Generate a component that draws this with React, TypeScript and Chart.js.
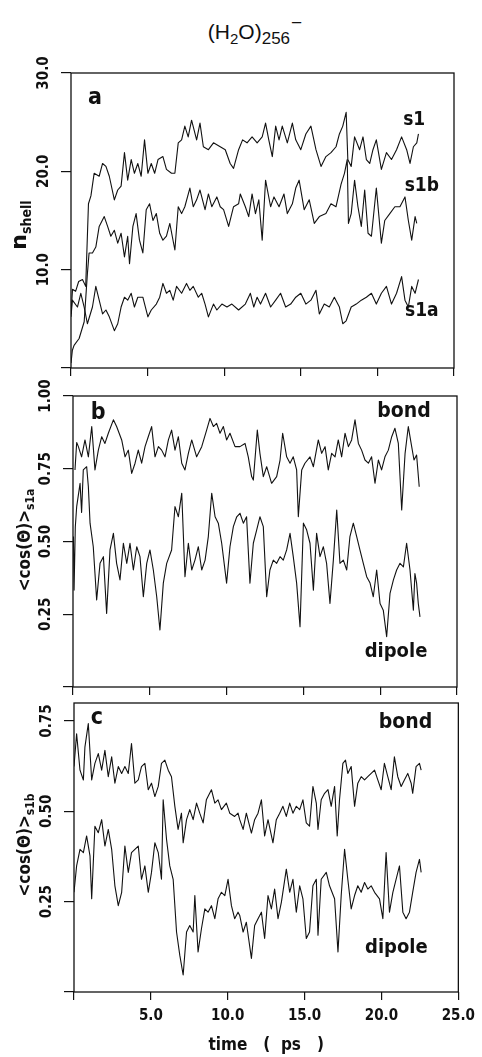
import React, { useEffect, useRef } from "react";
import { Chart, registerables } from "chart.js";

Chart.register(...registerables);

const FONT = "'DejaVu Sans Condensed', 'DejaVu Sans', sans-serif";
const INK = "#111";

// ---- (a) shell populations n_shell vs time (ps) ----
const s1Time = [0, 0.1, 0.3, 0.5, 0.75, 0.96, 1.14, 1.3, 1.51, 1.84, 2.06, 2.28, 2.5, 2.83, 3.05, 3.27, 3.49, 3.7, 3.93, 4.14, 4.36, 4.58, 4.8, 5.02, 5.24, 5.46, 5.68, 6.0, 6.23, 6.56, 6.78, 7.0, 7.22, 7.43, 7.65, 7.87, 8.2, 8.42, 8.64, 8.97, 9.3, 9.74, 10.07, 10.39, 10.61, 10.94, 11.2, 11.49, 11.82, 12.15, 12.48, 12.7, 12.91, 13.14, 13.36, 13.58, 13.79, 14.12, 14.45, 14.67, 15.0, 15.33, 15.66, 15.99, 16.32, 16.64, 16.97, 17.3, 17.52, 17.74, 17.96, 18.07, 18.29, 18.51, 18.84, 19.06, 19.28, 19.5, 19.71, 19.93, 20.26, 20.59, 20.92, 21.25, 21.58, 21.91, 22.13, 22.35, 22.57, 22.68];
const s1Shell = [5.5, 8.0, 7.8, 8.8, 9.0, 8.3, 16.7, 17.5, 19.8, 19.5, 20.8, 20.5, 19.5, 17.1, 18.1, 18.5, 21.9, 19.1, 21.2, 19.8, 20.8, 19.5, 23.2, 19.8, 20.8, 19.8, 21.2, 21.5, 20.2, 19.8, 19.8, 22.9, 23.2, 24.6, 23.5, 25.2, 23.2, 24.9, 22.5, 22.2, 22.9, 22.5, 22.2, 20.8, 20.3, 22.2, 23.2, 22.9, 23.5, 22.9, 23.5, 24.9, 23.2, 21.5, 24.6, 23.2, 24.6, 22.9, 24.9, 23.2, 22.2, 23.8, 24.6, 22.2, 20.5, 21.5, 21.9, 22.5, 23.8, 24.6, 26.0, 21.2, 20.5, 23.5, 22.2, 23.5, 21.2, 20.8, 22.2, 23.2, 20.2, 21.9, 21.2, 22.2, 23.5, 22.2, 20.8, 22.5, 22.9, 23.8];

const s1bTime = [0, 0.09, 0.2, 0.53, 0.86, 1.07, 1.18, 1.4, 1.62, 1.84, 2.17, 2.39, 2.6, 2.83, 3.05, 3.27, 3.49, 3.7, 3.82, 4.04, 4.25, 4.47, 4.69, 4.91, 5.13, 5.35, 5.57, 5.79, 6.0, 6.23, 6.45, 6.78, 7.0, 7.22, 7.43, 7.76, 7.98, 8.2, 8.42, 8.75, 8.97, 9.19, 9.52, 9.74, 9.96, 10.29, 10.61, 10.94, 11.05, 11.38, 11.6, 11.82, 12.04, 12.26, 12.48, 12.7, 13.03, 13.25, 13.58, 13.9, 14.12, 14.45, 14.67, 14.89, 15.22, 15.55, 15.88, 16.21, 16.64, 16.97, 17.3, 17.63, 17.85, 18.03, 18.11, 18.29, 18.51, 18.73, 18.95, 19.17, 19.39, 19.61, 19.93, 20.26, 20.48, 20.81, 21.14, 21.47, 21.8, 22.02, 22.24, 22.46, 22.57];
const s1bShell = [0.5, 1.8, 2.3, 3.0, 4.7, 9.6, 11.7, 11.7, 12.3, 14.4, 15.4, 14.4, 13.4, 14.0, 12.7, 13.7, 11.3, 13.4, 10.6, 14.4, 15.7, 13.0, 11.7, 16.1, 16.7, 15.0, 15.7, 13.7, 13.0, 13.4, 14.7, 12.0, 16.4, 15.7, 16.4, 18.3, 16.4, 17.1, 18.1, 16.1, 17.7, 16.4, 17.4, 16.4, 16.1, 14.4, 16.4, 16.7, 17.7, 16.4, 15.4, 17.7, 15.7, 17.1, 13.0, 19.1, 16.4, 17.4, 16.4, 17.7, 15.7, 16.7, 18.3, 19.1, 16.1, 17.1, 14.7, 15.4, 15.7, 16.7, 16.4, 18.7, 19.8, 21.2, 14.7, 15.7, 19.1, 16.4, 14.4, 18.1, 13.7, 13.4, 18.3, 12.7, 15.0, 15.7, 16.4, 16.4, 17.4, 15.0, 13.0, 15.4, 14.7];

const s1aTime = [0, 0.09, 0.42, 0.64, 0.86, 1.07, 1.4, 1.62, 1.84, 2.06, 2.28, 2.5, 2.83, 3.05, 3.27, 3.49, 3.7, 3.93, 4.14, 4.36, 4.69, 5.02, 5.24, 5.57, 5.79, 6.0, 6.23, 6.45, 6.67, 6.89, 7.22, 7.54, 7.76, 7.98, 8.31, 8.53, 8.75, 8.97, 9.3, 9.52, 9.85, 10.18, 10.5, 10.94, 11.38, 11.71, 11.93, 12.15, 12.37, 12.7, 13.03, 13.36, 13.68, 14.01, 14.34, 14.67, 15.0, 15.33, 15.66, 15.99, 16.21, 16.53, 16.86, 17.19, 17.52, 17.74, 17.96, 18.29, 18.62, 18.95, 19.28, 19.61, 19.93, 20.26, 20.59, 20.92, 21.25, 21.58, 21.8, 22.02, 22.24, 22.46, 22.68];
const s1aShell = [5.2, 6.9, 6.2, 7.6, 6.2, 4.5, 6.2, 8.3, 6.9, 5.5, 5.9, 5.2, 3.8, 4.5, 6.2, 7.2, 6.9, 7.6, 6.2, 7.2, 7.2, 5.2, 5.9, 6.5, 7.2, 8.6, 7.6, 7.9, 6.9, 8.3, 7.6, 8.6, 7.9, 8.3, 7.2, 7.6, 6.5, 5.2, 6.5, 5.9, 6.5, 6.2, 6.5, 5.9, 6.5, 7.6, 6.2, 7.2, 6.5, 7.6, 6.2, 6.9, 7.6, 6.2, 6.5, 7.2, 7.6, 6.5, 6.9, 7.9, 5.5, 6.5, 6.2, 7.2, 6.2, 4.5, 4.8, 6.2, 6.5, 6.9, 7.2, 7.6, 6.5, 7.6, 8.3, 6.5, 7.6, 9.3, 6.9, 6.2, 8.3, 7.6, 9.0];

// ---- (b) <cos(Θ)> for shell s1a ----
const bondATime = [0.13, 0.24, 0.35, 0.56, 0.78, 1.0, 1.22, 1.43, 1.65, 1.87, 2.08, 2.3, 2.63, 2.84, 3.17, 3.39, 3.6, 3.82, 4.04, 4.25, 4.47, 4.69, 4.9, 5.12, 5.34, 5.56, 5.77, 5.99, 6.21, 6.42, 6.64, 6.86, 7.08, 7.29, 7.51, 7.73, 8.05, 8.38, 8.7, 8.92, 9.14, 9.35, 9.57, 9.79, 10.0, 10.22, 10.55, 10.87, 11.2, 11.41, 11.63, 11.74, 12.0, 12.17, 12.39, 12.61, 12.93, 13.26, 13.48, 13.65, 13.91, 14.13, 14.34, 14.56, 14.67, 14.89, 15.1, 15.43, 15.65, 15.97, 16.19, 16.41, 16.62, 16.84, 17.06, 17.27, 17.49, 17.71, 17.93, 18.14, 18.36, 18.58, 18.79, 19.01, 19.23, 19.44, 19.66, 19.88, 20.09, 20.31, 20.53, 20.75, 20.96, 21.18, 21.4, 21.62, 21.83, 22.05, 22.2, 22.37, 22.54];
const bondA = [0.746, 0.84, 0.826, 0.791, 0.849, 0.791, 0.895, 0.746, 0.814, 0.86, 0.837, 0.872, 0.918, 0.895, 0.849, 0.791, 0.814, 0.734, 0.769, 0.814, 0.769, 0.826, 0.86, 0.895, 0.791, 0.826, 0.814, 0.791, 0.849, 0.883, 0.814, 0.86, 0.769, 0.746, 0.803, 0.849, 0.791, 0.826, 0.883, 0.923, 0.895, 0.906, 0.872, 0.895, 0.849, 0.872, 0.826, 0.826, 0.837, 0.791, 0.723, 0.711, 0.883, 0.803, 0.723, 0.757, 0.7, 0.723, 0.78, 0.872, 0.791, 0.769, 0.791, 0.746, 0.585, 0.746, 0.769, 0.791, 0.757, 0.849, 0.803, 0.826, 0.746, 0.803, 0.791, 0.849, 0.791, 0.872, 0.826, 0.849, 0.918, 0.837, 0.814, 0.78, 0.769, 0.791, 0.7, 0.78, 0.746, 0.791, 0.814, 0.86, 0.889, 0.837, 0.608, 0.803, 0.895, 0.826, 0.78, 0.797, 0.688];

const dipoleATime = [0.03, 0.07, 0.15, 0.24, 0.46, 0.56, 0.67, 0.89, 1.0, 1.11, 1.32, 1.54, 1.76, 1.98, 2.19, 2.41, 2.63, 2.84, 3.06, 3.28, 3.5, 3.71, 3.93, 4.15, 4.36, 4.58, 4.8, 5.01, 5.23, 5.45, 5.66, 5.88, 6.1, 6.42, 6.64, 6.86, 7.08, 7.29, 7.51, 7.73, 7.94, 8.16, 8.38, 8.6, 8.81, 9.03, 9.25, 9.46, 9.68, 10.0, 10.22, 10.44, 10.66, 10.87, 11.09, 11.3, 11.52, 11.74, 11.96, 12.17, 12.39, 12.61, 12.82, 13.04, 13.26, 13.48, 13.69, 13.91, 14.13, 14.34, 14.56, 14.78, 15.0, 15.21, 15.43, 15.65, 15.86, 16.08, 16.3, 16.51, 16.73, 16.95, 17.17, 17.38, 17.6, 17.82, 18.03, 18.25, 18.47, 18.68, 18.9, 19.12, 19.34, 19.55, 19.77, 19.99, 20.2, 20.42, 20.64, 20.86, 21.07, 21.29, 21.51, 21.72, 21.94, 22.16, 22.26, 22.37, 22.48, 22.59];
const dipoleA = [0.517, 0.333, 0.55, 0.62, 0.7, 0.6, 0.746, 0.757, 0.688, 0.563, 0.482, 0.299, 0.425, 0.448, 0.253, 0.471, 0.528, 0.425, 0.368, 0.494, 0.425, 0.494, 0.402, 0.482, 0.448, 0.31, 0.425, 0.471, 0.402, 0.31, 0.196, 0.357, 0.425, 0.471, 0.62, 0.585, 0.666, 0.379, 0.494, 0.402, 0.436, 0.482, 0.402, 0.436, 0.517, 0.666, 0.585, 0.563, 0.494, 0.357, 0.482, 0.551, 0.585, 0.597, 0.563, 0.585, 0.357, 0.494, 0.54, 0.585, 0.551, 0.31, 0.402, 0.436, 0.425, 0.448, 0.436, 0.471, 0.528, 0.448, 0.357, 0.207, 0.563, 0.54, 0.494, 0.333, 0.528, 0.448, 0.482, 0.425, 0.287, 0.436, 0.608, 0.425, 0.436, 0.402, 0.517, 0.563, 0.517, 0.471, 0.425, 0.379, 0.357, 0.31, 0.402, 0.287, 0.264, 0.173, 0.322, 0.368, 0.402, 0.425, 0.413, 0.494, 0.402, 0.264, 0.39, 0.357, 0.287, 0.241];

// ---- (c) <cos(Θ)> for shell s1b ----
const bondBTime = [0, 0.17, 0.39, 0.61, 0.71, 0.93, 1.15, 1.36, 1.58, 1.8, 2.01, 2.23, 2.45, 2.66, 2.88, 3.1, 3.31, 3.53, 3.74, 3.96, 4.18, 4.39, 4.61, 4.83, 5.04, 5.26, 5.48, 5.69, 5.91, 6.13, 6.34, 6.56, 6.77, 6.99, 7.1, 7.32, 7.53, 7.75, 7.97, 8.18, 8.4, 8.61, 8.94, 9.16, 9.37, 9.59, 9.91, 10.13, 10.45, 10.67, 10.78, 11.0, 11.21, 11.54, 11.75, 11.97, 12.19, 12.4, 12.62, 12.94, 13.16, 13.38, 13.59, 13.81, 14.03, 14.24, 14.46, 14.68, 14.89, 15.11, 15.32, 15.54, 15.76, 15.87, 16.08, 16.3, 16.52, 16.73, 16.95, 17.12, 17.27, 17.49, 17.66, 17.81, 18.03, 18.25, 18.46, 18.68, 18.9, 19.11, 19.33, 19.55, 19.76, 19.98, 20.19, 20.41, 20.63, 20.84, 21.06, 21.28, 21.49, 21.71, 21.93, 22.03, 22.25, 22.47, 22.58];
const bondB = [0.624, 0.715, 0.614, 0.587, 0.678, 0.743, 0.587, 0.633, 0.66, 0.614, 0.669, 0.596, 0.651, 0.578, 0.624, 0.605, 0.624, 0.605, 0.688, 0.578, 0.587, 0.624, 0.633, 0.56, 0.578, 0.541, 0.569, 0.633, 0.642, 0.614, 0.596, 0.514, 0.45, 0.495, 0.413, 0.477, 0.505, 0.477, 0.523, 0.495, 0.468, 0.532, 0.56, 0.523, 0.532, 0.505, 0.523, 0.495, 0.486, 0.495, 0.477, 0.45, 0.495, 0.44, 0.477, 0.495, 0.532, 0.432, 0.477, 0.413, 0.477, 0.495, 0.514, 0.486, 0.523, 0.495, 0.514, 0.505, 0.532, 0.468, 0.459, 0.569, 0.523, 0.45, 0.532, 0.55, 0.56, 0.514, 0.569, 0.432, 0.532, 0.633, 0.642, 0.605, 0.624, 0.514, 0.578, 0.596, 0.587, 0.596, 0.605, 0.614, 0.587, 0.56, 0.633, 0.596, 0.56, 0.651, 0.596, 0.569, 0.587, 0.605, 0.578, 0.55, 0.624, 0.633, 0.614];

const dipoleBTime = [0, 0.17, 0.39, 0.61, 0.82, 1.04, 1.15, 1.36, 1.58, 1.8, 2.01, 2.23, 2.45, 2.66, 2.88, 3.1, 3.31, 3.53, 3.74, 3.96, 4.18, 4.39, 4.61, 4.83, 5.04, 5.26, 5.48, 5.69, 5.8, 6.02, 6.23, 6.45, 6.67, 6.88, 7.1, 7.32, 7.53, 7.75, 7.86, 8.07, 8.29, 8.51, 8.72, 8.94, 9.16, 9.37, 9.59, 9.81, 10.02, 10.24, 10.45, 10.67, 10.78, 11.0, 11.21, 11.54, 11.75, 11.97, 12.19, 12.4, 12.62, 12.84, 13.05, 13.27, 13.49, 13.81, 14.03, 14.24, 14.46, 14.68, 14.89, 15.11, 15.32, 15.54, 15.76, 15.87, 16.08, 16.41, 16.62, 16.95, 17.17, 17.38, 17.6, 17.81, 18.03, 18.25, 18.46, 18.68, 18.9, 19.11, 19.33, 19.55, 19.87, 20.09, 20.3, 20.52, 20.74, 20.95, 21.17, 21.39, 21.6, 21.82, 22.03, 22.25, 22.47, 22.58];
const dipoleB = [0.276, 0.349, 0.395, 0.386, 0.432, 0.377, 0.258, 0.459, 0.441, 0.477, 0.404, 0.45, 0.395, 0.294, 0.239, 0.276, 0.404, 0.331, 0.386, 0.395, 0.404, 0.312, 0.349, 0.276, 0.331, 0.413, 0.386, 0.312, 0.532, 0.422, 0.349, 0.312, 0.166, 0.102, 0.047, 0.166, 0.184, 0.166, 0.267, 0.111, 0.175, 0.23, 0.221, 0.239, 0.203, 0.258, 0.276, 0.267, 0.312, 0.239, 0.203, 0.221, 0.212, 0.166, 0.193, 0.093, 0.184, 0.203, 0.221, 0.148, 0.267, 0.23, 0.285, 0.203, 0.249, 0.34, 0.276, 0.312, 0.221, 0.294, 0.258, 0.148, 0.166, 0.294, 0.312, 0.157, 0.312, 0.331, 0.294, 0.258, 0.111, 0.267, 0.395, 0.312, 0.23, 0.267, 0.294, 0.276, 0.303, 0.285, 0.294, 0.276, 0.258, 0.203, 0.386, 0.221, 0.276, 0.312, 0.349, 0.221, 0.203, 0.221, 0.276, 0.331, 0.367, 0.331];

const timeTicks = { min: 0, max: 25, step: 5 };

type Note = { text: string; t: number; v: number; size: number };
type PanelSpec = {
  canvasTop: number;
  canvasHeight: number;
  area: { left: number; right: number; top: number; bottom: number };
  yMin: number;
  yMax: number;
  yStep: number;
  yDigits: number;
  includeTop: boolean;
  showTime: boolean;
  series: { t: number[]; v: number[] }[];
  notes: Note[];
};

const PAGE_W = 482;
const PAGE_H = 1057;

const panels: PanelSpec[] = [
  {
    canvasTop: 40,
    canvasHeight: 345,
    area: { left: 71, right: 454, top: 73, bottom: 368 },
    yMin: 0,
    yMax: 30,
    yStep: 10,
    yDigits: 1,
    includeTop: true,
    showTime: false,
    series: [
      { t: s1Time, v: s1Shell },
      { t: s1bTime, v: s1bShell },
      { t: s1aTime, v: s1aShell },
    ],
    notes: [
      { text: "a", t: 1.57, v: 27.5, size: 23 },
      { text: "s1", t: 22.4, v: 25.2, size: 19 },
      { text: "s1b", t: 22.9, v: 18.5, size: 19 },
      { text: "s1a", t: 22.9, v: 5.8, size: 19 },
    ],
  },
  {
    canvasTop: 360,
    canvasHeight: 340,
    area: { left: 73, right: 457, top: 396, bottom: 687 },
    yMin: 0,
    yMax: 1,
    yStep: 0.25,
    yDigits: 2,
    includeTop: true,
    showTime: false,
    series: [
      { t: bondATime, v: bondA },
      { t: dipoleATime, v: dipoleA },
    ],
    notes: [
      { text: "b", t: 1.63, v: 0.942, size: 23 },
      { text: "bond", t: 21.55, v: 0.945, size: 21 },
      { text: "dipole", t: 21.03, v: 0.12, size: 20 },
    ],
  },
  {
    canvasTop: 675,
    canvasHeight: PAGE_H - 675,
    area: { left: 74, right: 459, top: 703, bottom: 992 },
    yMin: 0,
    yMax: 0.8,
    yStep: 0.25,
    yDigits: 2,
    includeTop: false,
    showTime: true,
    series: [
      { t: bondBTime, v: bondB },
      { t: dipoleBTime, v: dipoleB },
    ],
    notes: [
      { text: "c", t: 1.49, v: 0.758, size: 23 },
      { text: "bond", t: 21.56, v: 0.745, size: 21 },
      { text: "dipole", t: 20.97, v: 0.122, size: 20 },
    ],
  },
];

const framePlugin = {
  id: "frame",
  afterDatasetsDraw(chart: any) {
    const { ctx, chartArea: a } = chart;
    ctx.save();
    ctx.strokeStyle = INK;
    ctx.lineWidth = 1.3;
    ctx.strokeRect(a.left, a.top, a.right - a.left, a.bottom - a.top);
    ctx.restore();
  },
};

function notesPlugin(notes: Note[]) {
  return {
    id: "notes",
    afterDraw(chart: any) {
      const { ctx } = chart;
      const xs = chart.scales.x;
      const ys = chart.scales.y;
      ctx.save();
      ctx.fillStyle = INK;
      ctx.textAlign = "center";
      ctx.textBaseline = "middle";
      for (const n of notes) {
        ctx.font = `bold ${n.size}px ${FONT}`;
        ctx.fillText(n.text, xs.getPixelForValue(n.t), ys.getPixelForValue(n.v));
      }
      ctx.restore();
    },
  };
}

function buildConfig(p: PanelSpec): any {
  const tickFont = { family: FONT, size: 15, weight: "bold" as const };
  return {
    type: "line",
    data: {
      datasets: p.series.map((s) => ({
        data: s.t.map((t, i) => ({ x: t, y: s.v[i] })),
        borderColor: INK,
        borderWidth: 1.1,
        pointRadius: 0,
        tension: 0,
        fill: false,
        borderJoinStyle: "round",
      })),
    },
    options: {
      animation: false,
      responsive: false,
      events: [],
      layout: {
        padding: {
          top: p.area.top - p.canvasTop,
          right: PAGE_W - p.area.right,
          left: 0,
          bottom: 0,
        },
      },
      plugins: {
        legend: { display: false },
        tooltip: { enabled: false },
      },
      scales: {
        x: {
          type: "linear",
          min: timeTicks.min,
          max: timeTicks.max,
          afterFit: (scale: any) => {
            scale.height = p.canvasTop + p.canvasHeight - p.area.bottom;
          },
          border: { display: false },
          grid: {
            drawOnChartArea: false,
            drawTicks: true,
            tickLength: 8,
            color: INK,
            lineWidth: 1.2,
          },
          ticks: {
            display: p.showTime,
            stepSize: timeTicks.step,
            autoSkip: false,
            maxRotation: 0,
            minRotation: 0,
            padding: 7,
            color: INK,
            font: tickFont,
            callback: (v: number) => (v === 0 ? "" : v.toFixed(1)),
          },
          title: {
            display: p.showTime,
            text: "time   (  ps   )",
            color: INK,
            font: { family: FONT, size: 17, weight: "bold" },
            padding: { top: 0, bottom: 1 },
          },
        },
        y: {
          type: "linear",
          min: p.yMin,
          max: p.yMax,
          afterFit: (scale: any) => {
            scale.width = p.area.left;
          },
          border: { display: false },
          grid: {
            drawOnChartArea: false,
            drawTicks: true,
            tickLength: 10,
            color: INK,
            lineWidth: 1.2,
          },
          ticks: {
            stepSize: p.yStep,
            includeBounds: p.includeTop,
            autoSkip: false,
            minRotation: 90,
            maxRotation: 90,
            crossAlign: "center",
            padding: 0,
            color: INK,
            font: tickFont,
            callback: (v: number) => (v === 0 ? "" : v.toFixed(p.yDigits)),
          },
        },
      },
    },
    plugins: [framePlugin, notesPlugin(p.notes)],
  };
}

function PanelChart({ spec }: { spec: PanelSpec }) {
  const ref = useRef<HTMLCanvasElement | null>(null);
  useEffect(() => {
    if (!ref.current) return;
    const chart = new Chart(ref.current, buildConfig(spec));
    return () => chart.destroy();
  }, [spec]);
  return (
    <canvas
      ref={ref}
      width={PAGE_W}
      height={spec.canvasHeight}
      style={{
        position: "absolute",
        left: 0,
        top: spec.canvasTop,
        width: PAGE_W,
        height: spec.canvasHeight,
      }}
    />
  );
}

function RotatedTitle({ cx, cy, children }: { cx: number; cy: number; children: React.ReactNode }) {
  return (
    <div
      style={{
        position: "absolute",
        left: cx,
        top: cy,
        transform: "translate(-50%, -50%) rotate(-90deg)",
        whiteSpace: "nowrap",
        lineHeight: 1,
        color: INK,
        fontFamily: FONT,
        fontWeight: "bold",
      }}
    >
      {children}
    </div>
  );
}

const subStyle: React.CSSProperties = { verticalAlign: "-0.35em", lineHeight: 0 };

export default function App() {
  return (
    <div
      style={{
        position: "fixed",
        left: 0,
        top: 0,
        width: PAGE_W,
        height: PAGE_H,
        background: "#fff",
        overflow: "hidden",
      }}
    >
      <div
        style={{
          position: "absolute",
          left: 255,
          top: 31,
          transform: "translate(-50%, -50%)",
          whiteSpace: "nowrap",
          fontFamily: "'Liberation Sans', sans-serif",
          fontSize: 21,
          lineHeight: 1,
          color: INK,
        }}
      >
        (H<sub style={{ ...subStyle, fontSize: 15 }}>2</sub>O)
        <sub style={{ ...subStyle, fontSize: 17 }}>256</sub>
        <sup style={{ verticalAlign: "0.55em", lineHeight: 0, fontSize: 19, marginLeft: 1 }}>−</sup>
      </div>

      {panels.map((p, i) => (
        <PanelChart key={i} spec={p} />
      ))}

      <RotatedTitle cx={19} cy={225}>
        <span style={{ fontFamily: "'DejaVu Sans', sans-serif", fontSize: 22 }}>n</span>
        <sub style={{ ...subStyle, fontSize: 14 }}>shell</sub>
      </RotatedTitle>
      <RotatedTitle cx={24} cy={540}>
        <span style={{ fontSize: 17 }}>&lt;cos(Θ)&gt;</span>
        <sub style={{ ...subStyle, fontSize: 12 }}>s1a</sub>
      </RotatedTitle>
      <RotatedTitle cx={24} cy={845}>
        <span style={{ fontSize: 17 }}>&lt;cos(Θ)&gt;</span>
        <sub style={{ ...subStyle, fontSize: 12 }}>s1b</sub>
      </RotatedTitle>
    </div>
  );
}
